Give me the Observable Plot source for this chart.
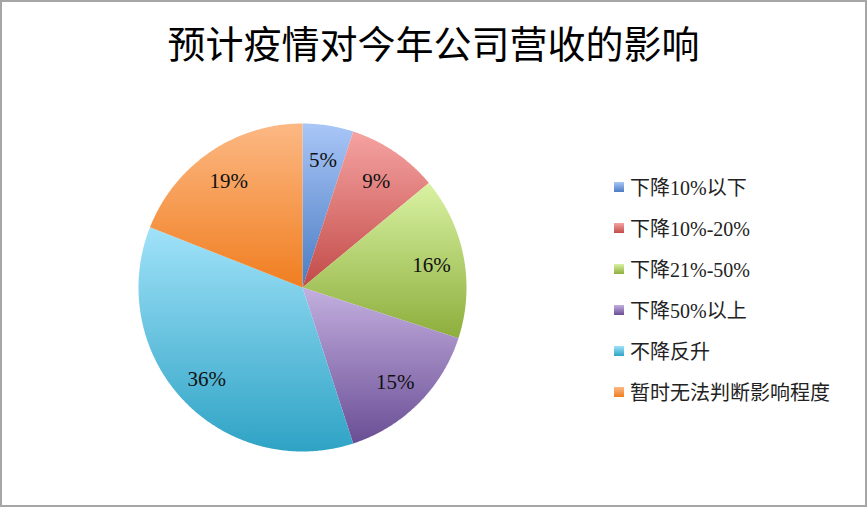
<!DOCTYPE html>
<html>
<head>
<meta charset="utf-8">
<script src="https://cdn.jsdelivr.net/npm/d3@7"></script>
<script src="https://cdn.jsdelivr.net/npm/@observablehq/plot@0.6"></script>
<style>
  html, body { margin: 0; padding: 0; background: #fff; }
  #wrap { position: relative; width: 867px; height: 507px; overflow: hidden; }
  #frame { position: absolute; left: 0; top: 0; width: 863px; height: 503px; border: 2px solid #a6a6a6; box-sizing: content-box; }
  #title { position: absolute; left: 0; top: 0; width: 867px; height: 80px; text-align: center;
           font-family: "Noto Sans CJK SC", sans-serif; font-size: 38px; line-height: 80px; color: #000; padding-top: 2px; }
  #chart { position: absolute; left: 0; top: 80px; }
  #legend { position: absolute; left: 614px; top: 166px; font-family: "Liberation Serif", "Noto Sans CJK SC", serif; font-size: 20px; color: #222; }
  .item { height: 41px; display: flex; align-items: center; }
  .sw { width: 10px; height: 10px; margin-right: 6px; }
</style>
</head>
<body>
<div id="wrap">
  <div id="frame"></div>
  <div id="title">预计疫情对今年公司营收的影响</div>
  <div id="chart"></div>
  <div id="legend"></div>
</div>
<script>
const categories = ["下降10%以下", "下降10%-20%", "下降21%-50%", "下降50%以上", "不降反升", "暂时无法判断影响程度"];
const values = [5, 9, 16, 15, 36, 19];
const labels = ["5%", "9%", "16%", "15%", "36%", "19%"];
const lightColors = ["#a9c6f7", "#f5a3a2", "#d9f2a3", "#c3afdf", "#a0e2f9", "#fcb884"];
const darkColors  = ["#4a7cc2", "#c24b48", "#8dae3c", "#6a4e95", "#2fa3c5", "#f07e20"];

const pie = d3.pie().sort(null).value(d => d)(values);

// polygon vertices per slice (unit radius), derived from pie angles
const slicePts = pie.map((p, i) => {
  const pts = [{x: 0, y: 0, i}];
  const n = Math.max(4, Math.ceil((p.endAngle - p.startAngle) / 0.01));
  for (let k = 0; k <= n; k++) {
    const a = p.startAngle + (p.endAngle - p.startAngle) * k / n;
    pts.push({x: Math.sin(a), y: Math.cos(a), i});
  }
  pts.push({x: 0, y: 0, i});
  return pts;
});

const labelR = 0.8;
const labelData = pie.map((p, i) => {
  const a = (p.startAngle + p.endAngle) / 2;
  return {x: Math.sin(a) * labelR, y: Math.cos(a) * labelR, t: labels[i]};
});

const R = 164, cx = 302, cy = 207, H = 427;
const marks = slicePts.map((pts, i) =>
  Plot.line(pts, {x: "x", y: "y", fill: `url(#grad${i})`, stroke: "none", curve: "linear"})
);
marks.push(Plot.text(labelData, {x: "x", y: "y", text: "t", fontSize: 21, fill: "#111",
  fontFamily: "Liberation Serif, serif", dy: 2}));

const plot = Plot.plot({
  width: 867,
  height: H,
  marginLeft: cx - R,
  marginRight: 867 - (cx + R),
  marginTop: cy - R,
  marginBottom: H - (cy + R),
  x: {domain: [-1, 1], axis: null},
  y: {domain: [-1, 1], axis: null},
  style: {background: "transparent", overflow: "visible"},
  marks
});

const ns = "http://www.w3.org/2000/svg";
const defs = document.createElementNS(ns, "defs");
lightColors.forEach((c, i) => {
  const g = document.createElementNS(ns, "linearGradient");
  g.setAttribute("id", "grad" + i);
  g.setAttribute("x1", "0"); g.setAttribute("y1", "0");
  g.setAttribute("x2", "0"); g.setAttribute("y2", "1");
  const s1 = document.createElementNS(ns, "stop");
  s1.setAttribute("offset", "0"); s1.setAttribute("stop-color", c);
  const s2 = document.createElementNS(ns, "stop");
  s2.setAttribute("offset", "1"); s2.setAttribute("stop-color", darkColors[i]);
  g.appendChild(s1); g.appendChild(s2);
  defs.appendChild(g);
});
plot.insertBefore(defs, plot.firstChild);
document.getElementById("chart").appendChild(plot);

const legend = document.getElementById("legend");
categories.forEach((c, i) => {
  const row = document.createElement("div");
  row.className = "item";
  const sw = document.createElement("div");
  sw.className = "sw";
  sw.style.background = `linear-gradient(${lightColors[i]}, ${darkColors[i]})`;
  const tx = document.createElement("span");
  tx.textContent = c;
  row.appendChild(sw); row.appendChild(tx);
  legend.appendChild(row);
});
</script>
</body>
</html>
